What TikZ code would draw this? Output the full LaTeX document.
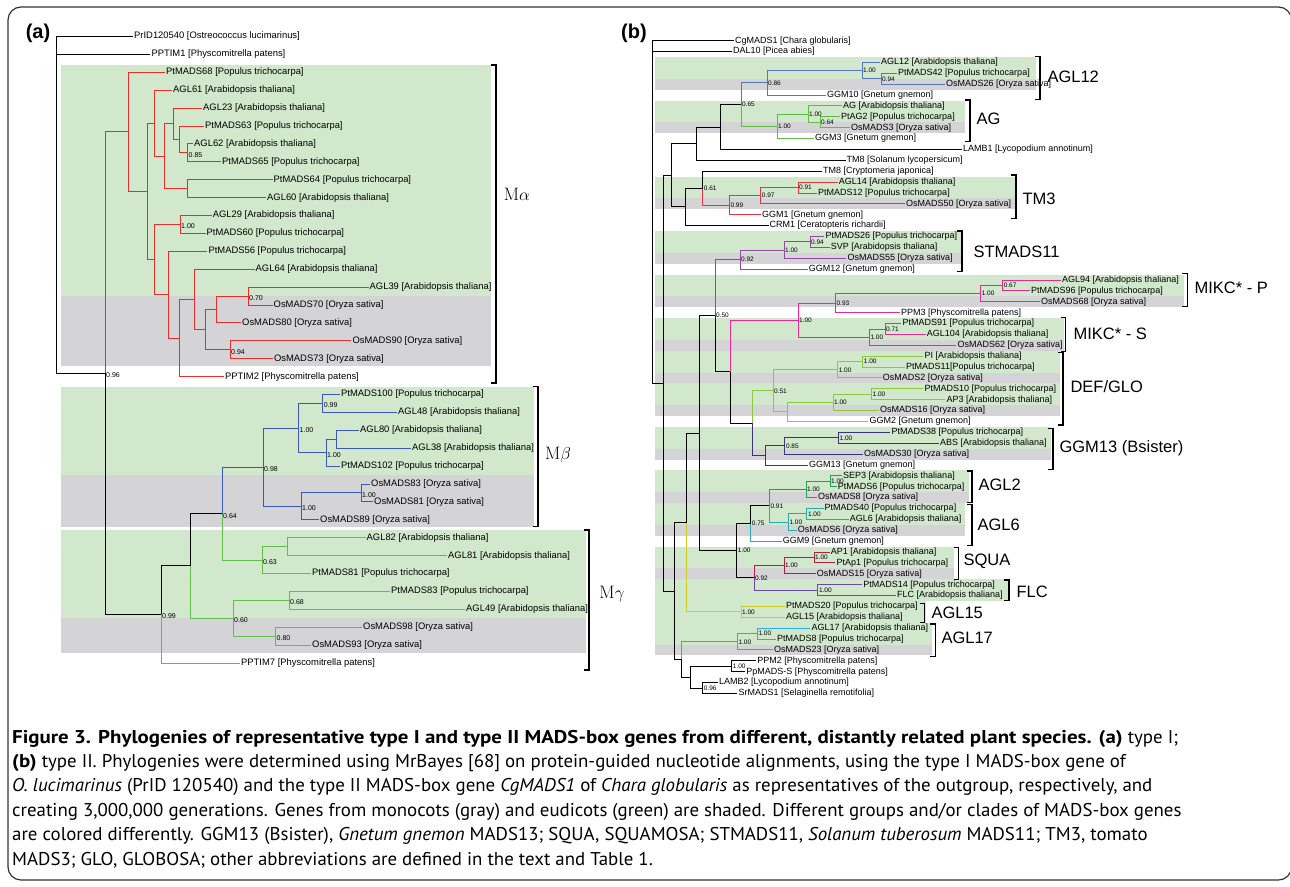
\documentclass[tikz,border=0pt]{standalone}
\usepackage{fontspec}
\newfontfamily\treefont{Liberation Sans}
\newfontfamily\capfont[FakeStretch=1.02, BoldFeatures={FakeStretch=1.13}]{PT Sans}
\usetikzlibrary{calc}

\definecolor{eudicot}{RGB}{209,232,205}
\definecolor{monocot}{RGB}{212,212,214}
\definecolor{malpha}{RGB}{231,46,43}
\definecolor{mbeta}{RGB}{59,89,184}
\definecolor{mgamma}{RGB}{98,190,75}
\definecolor{cagltw}{RGB}{86,116,196}
\definecolor{cag}{RGB}{95,190,65}
\definecolor{ctmthree}{RGB}{233,50,70}
\definecolor{cstm}{RGB}{150,70,170}
\definecolor{cmikc}{RGB}{236,40,150}
\definecolor{cdefglo}{RGB}{140,200,60}
\definecolor{cggm}{RGB}{60,50,130}
\definecolor{caglii}{RGB}{30,165,70}
\definecolor{caglvi}{RGB}{40,170,175}
\definecolor{csqua}{RGB}{180,30,65}
\definecolor{cflc}{RGB}{110,70,165}
\definecolor{caglxv}{RGB}{205,205,40}
\definecolor{caglxvii}{RGB}{40,170,230}

\newcommand\lfa[4]{\node[lfa] (#1) at (#2,{36.5+17.9*#3}) {#4};}
\newcommand\lfb[4]{\node[lfb] (#1) at (#2,{40.7+10.88*#3}) {#4};}
\newcommand\clade[7]{%
  \coordinate (#1-m) at ($(#3)!.5!(#5)$);
  \coordinate (#1) at (#2,0 |- #1-m);
  \draw[br,#4] (#1) |- (#3);
  \draw[br,#6] (#1) |- (#5);
  \node[supp] (#1-s) at (#1) {#7};}
\newcommand\grpbrk[3]{\draw[brkt] (#1-5,#2) -- (#1,#2) -- (#1,#3) -- (#1-5,#3);}
\newcommand\shb[4]{\fill[#1] (655,{40.7+10.88*(#2-0.5)}) rectangle (#4,{40.7+10.88*(#3+0.5)});}

\begin{document}
\begin{tikzpicture}[x=1pt,y=-1pt,
    lfa/.style={anchor=west, inner sep=1pt, font=\treefont\fontsize{9.4}{10}\selectfont},
    lfb/.style={anchor=west, inner sep=1pt, font=\treefont\fontsize{9}{10}\selectfont},
    br/.style={line width=1pt},
    brkt/.style={line width=1.5pt},
    grk/.style={font=\fontsize{18}{20}\selectfont},
    glb/.style={anchor=west, font=\treefont\fontsize{16.5}{18}\selectfont},
    panel/.style={font=\treefont\bfseries\fontsize{20}{22}\selectfont},
    capline/.style={anchor=base west, inner sep=0pt, font=\capfont\fontsize{18.5}{22}\selectfont}
  ]
\useasboundingbox (0,0) rectangle (1290,886);
\draw[line width=1.2pt, black!80, rounded corners=13pt] (8,7) rectangle (1291.5,880);

\fill[eudicot] (61,65) rectangle (491,296);
\fill[monocot] (61,296) rectangle (491,366);
\fill[eudicot] (61,386.5) rectangle (534,475);
\fill[monocot] (61,475) rectangle (534,527);
\fill[eudicot] (61,530) rectangle (585.5,618);
\fill[monocot] (61,618) rectangle (585.5,653);

\shb{eudicot}{2}{3}{1036}  \shb{monocot}{4}{4}{1036}
\shb{eudicot}{6}{7}{965}   \shb{monocot}{8}{8}{965}
\shb{eudicot}{13}{14}{1015} \shb{monocot}{15}{15}{1015}
\shb{eudicot}{18}{19}{962} \shb{monocot}{20}{20}{962}
\shb{eudicot}{22}{23}{1184} \shb{monocot}{24}{24}{1184}
\shb{eudicot}{26}{27}{1064} \shb{monocot}{28}{28}{1064}
\shb{eudicot}{29}{30}{1060} \shb{monocot}{31}{31}{1060}
\shb{eudicot}{32}{33}{1060} \shb{monocot}{34}{34}{1060}
\shb{eudicot}{36}{37}{1051} \shb{monocot}{38}{38}{1051}
\shb{eudicot}{40}{41}{969}  \shb{monocot}{42}{42}{969}
\shb{eudicot}{43}{44}{965}  \shb{monocot}{45}{45}{965}
\shb{eudicot}{47}{48}{954}  \shb{monocot}{49}{49}{954}
\shb{eudicot}{50}{51}{1008}
\shb{eudicot}{52}{53}{926}
\shb{eudicot}{54}{55}{932}  \shb{monocot}{56}{56}{932}

\node[panel] (pa) at (38,33) {(a)};
\node[panel] (pb) at (634,33) {(b)};

\begin{scope}[supp/.style={anchor=west, inner sep=1pt, yshift=-2pt, font=\treefont\fontsize{7}{8}\selectfont}]
\lfa{PrID}{133}{0}{PrID120540 [Ostreococcus lucimarinus]}
\lfa{PPTIM1}{150.4}{1}{PPTIM1 [Physcomitrella patens]}
\lfa{PtMADS68}{165}{2}{PtMADS68 [Populus trichocarpa]}
\lfa{AGL61}{172}{3}{AGL61 [Arabidopsis thaliana]}
\lfa{AGL23}{202}{4}{AGL23 [Arabidopsis thaliana]}
\lfa{PtMADS63}{204}{5}{PtMADS63 [Populus trichocarpa]}
\lfa{AGL62}{193}{6}{AGL62 [Arabidopsis thaliana]}
\lfa{PtMADS65}{221}{7}{PtMADS65 [Populus trichocarpa]}
\lfa{PtMADS64}{272.5}{8}{PtMADS64 [Populus trichocarpa]}
\lfa{AGL60}{266}{9}{AGL60 [Arabidopsis thaliana]}
\lfa{AGL29}{211.6}{10}{AGL29 [Arabidopsis thaliana]}
\lfa{PtMADS60}{205.5}{11}{PtMADS60 [Populus trichocarpa]}
\lfa{PtMADS56}{207.4}{12}{PtMADS56 [Populus trichocarpa]}
\lfa{AGL64}{254.5}{13}{AGL64 [Arabidopsis thaliana]}
\lfa{AGL39}{368.5}{14}{AGL39 [Arabidopsis thaliana]}
\lfa{OsMADS70}{272.5}{15}{OsMADS70 [Oryza sativa]}
\lfa{OsMADS80}{241}{16}{OsMADS80 [Oryza sativa]}
\lfa{OsMADS90}{351.3}{17}{OsMADS90 [Oryza sativa]}
\lfa{OsMADS73}{272.9}{18}{OsMADS73 [Oryza sativa]}
\lfa{PPTIM2}{223.9}{19}{PPTIM2 [Physcomitrella patens]}
\lfa{PtMADS100}{340}{20}{PtMADS100 [Populus trichocarpa]}
\lfa{AGL48}{397}{21}{AGL48 [Arabidopsis thaliana]}
\lfa{AGL80}{359}{22}{AGL80 [Arabidopsis thaliana]}
\lfa{AGL38}{411}{23}{AGL38 [Arabidopsis thaliana]}
\lfa{PtMADS102}{340}{24}{PtMADS102 [Populus trichocarpa]}
\lfa{OsMADS83}{370}{25}{OsMADS83 [Oryza sativa]}
\lfa{OsMADS81}{373}{26}{OsMADS81 [Oryza sativa]}
\lfa{OsMADS89}{319}{27}{OsMADS89 [Oryza sativa]}
\lfa{AGL82}{365.5}{28}{AGL82 [Arabidopsis thaliana]}
\lfa{AGL81}{447}{29}{AGL81 [Arabidopsis thaliana]}
\lfa{PtMADS81}{311}{30}{PtMADS81 [Populus trichocarpa]}
\lfa{PtMADS83}{390}{31}{PtMADS83 [Populus trichocarpa]}
\lfa{AGL49}{465}{32}{AGL49 [Arabidopsis thaliana]}
\lfa{OsMADS98}{362}{33}{OsMADS98 [Oryza sativa]}
\lfa{OsMADS93}{311}{34}{OsMADS93 [Oryza sativa]}
\lfa{PPTIM7}{240}{35}{PPTIM7 [Physcomitrella patens]}

\clade{aI}{187.5}{AGL62.west}{malpha}{PtMADS65.west}{malpha}{0.85}
\clade{aH}{179}{PtMADS63.west}{malpha}{aI}{malpha}{}
\clade{aF}{173}{AGL23.west}{malpha}{aH}{malpha}{}
\clade{aG}{187.5}{PtMADS64.west}{malpha}{AGL60.west}{malpha}{}
\clade{aE}{164}{aF}{malpha}{aG}{malpha}{}
\clade{aC}{154}{AGL61.west}{malpha}{aE}{malpha}{}
\clade{aJ}{180}{AGL29.west}{malpha}{PtMADS60.west}{malpha}{1.00}
\clade{aQ}{248}{AGL39.west}{malpha}{OsMADS70.west}{malpha}{0.70}
\clade{aO}{216}{aQ}{malpha}{OsMADS80.west}{malpha}{}
\clade{aP}{230}{OsMADS90.west}{malpha}{OsMADS73.west}{malpha}{0.94}
\clade{aN}{205}{aO}{malpha}{aP}{malpha}{}
\clade{aM}{194}{AGL64.west}{malpha}{aN}{malpha}{}
\clade{aL}{179}{aM}{malpha}{PPTIM2.west}{malpha}{}
\clade{aK}{168}{PtMADS56.west}{malpha}{aL}{malpha}{}
\clade{aD}{154}{aJ}{malpha}{aK}{malpha}{}
\clade{aB}{147}{aC}{malpha}{aD}{malpha}{}
\clade{aA}{128}{PtMADS68.west}{malpha}{aB}{malpha}{}

\clade{aZa}{322.6}{PtMADS100.west}{mbeta}{AGL48.west}{mbeta}{0.99}
\clade{aZc}{336}{AGL80.west}{mbeta}{AGL38.west}{mbeta}{}
\clade{aZb}{326}{aZc}{mbeta}{PtMADS102.west}{mbeta}{1.00}
\clade{aX}{298.5}{aZa}{mbeta}{aZb}{mbeta}{1.00}
\clade{aZd}{361}{OsMADS83.west}{mbeta}{OsMADS81.west}{mbeta}{1.00}
\clade{aY}{301}{aZd}{mbeta}{OsMADS89.west}{mbeta}{1.00}
\clade{aV}{263}{aX}{mbeta}{aY}{mbeta}{0.98}

\clade{aWa}{287}{AGL82.west}{mgamma}{AGL81.west}{mgamma}{}
\clade{aW}{262}{aWa}{mgamma}{PtMADS81.west}{mgamma}{0.63}
\clade{aUa}{289}{PtMADS83.west}{mgamma}{AGL49.west}{mgamma}{0.68}
\clade{aUb}{275.5}{OsMADS98.west}{mgamma}{OsMADS93.west}{mgamma}{0.80}
\clade{aU}{233}{aUa}{mgamma}{aUb}{mgamma}{0.60}
\clade{aT}{222}{aV}{mbeta}{aW}{mgamma}{0.64}
\clade{aS}{190}{aT}{black}{aU}{mgamma}{}
\clade{aR}{161}{aS}{black}{PPTIM7.west}{mgamma}{0.99}
\clade{aRoot}{105}{aA}{malpha}{aR}{black}{0.96}

\coordinate (aRt) at (56,0 |- aRoot);
\coordinate (aRt1) at (56,0 |- PPTIM1.west);
\draw[br] (PrID.west) -| (aRt) -- (aRoot);
\draw[br] (aRt1) -- (PPTIM1.west);
\end{scope}

\grpbrk{496}{65}{383}
\grpbrk{538}{386.7}{526.7}
\grpbrk{589}{530}{670}
\node[grk] (lMa) at (517,194) {$\mathrm{M}\alpha$};
\node[grk] (lMb) at (558,455) {$\mathrm{M}\beta$};
\node[grk] (lMc) at (612,594) {$\mathrm{M}\gamma$};

\begin{scope}[supp/.style={anchor=west, inner sep=1pt, font=\treefont\fontsize{6.5}{7}\selectfont}]
\lfb{CgMADS1}{734}{0}{CgMADS1 [Chara globularis]}
\lfb{DAL10}{732}{1}{DAL10 [Picea abies]}
\lfb{AGL12}{880}{2}{AGL12 [Arabidopsis thaliana]}
\lfb{PtMADS42}{897}{3}{PtMADS42 [Populus trichocarpa]}
\lfb{OsMADS26}{945}{4}{OsMADS26 [Oryza sativa]}
\lfb{GGM10}{826}{5}{GGM10 [Gnetum gnemon]}
\lfb{AG}{842}{6}{AG [Arabidopsis thaliana]}
\lfb{PtAG2}{840}{7}{PtAG2 [Populus trichocarpa]}
\lfb{OsMADS3}{850}{8}{OsMADS3 [Oryza sativa]}
\lfb{GGM3}{814}{9}{GGM3 [Gnetum gnemon]}
\lfb{LAMB1}{962}{10}{LAMB1 [Lycopodium annotinum]}
\lfb{TM8s}{845.5}{11}{TM8 [Solanum lycopersicum]}
\lfb{TM8c}{822}{12}{TM8 [Cryptomeria japonica]}
\lfb{AGL14}{837.6}{13}{AGL14 [Arabidopsis thaliana]}
\lfb{PtMADS12}{817}{14}{PtMADS12 [Populus trichocarpa]}
\lfb{OsMADS50}{905}{15}{OsMADS50 [Oryza sativa]}
\lfb{GGM1}{761}{16}{GGM1 [Gnetum gnemon]}
\lfb{CRM1}{768.5}{17}{CRM1 [Ceratopteris richardii]}
\lfb{PtMADS26}{824.4}{18}{PtMADS26 [Populus trichocarpa]}
\lfb{SVP}{829.7}{19}{SVP [Arabidopsis thaliana]}
\lfb{OsMADS55}{846.4}{20}{OsMADS55 [Oryza sativa]}
\lfb{GGM12}{807.7}{21}{GGM12 [Gnetum gnemon]}
\lfb{AGL94}{1061}{22}{AGL94 [Arabidopsis thaliana]}
\lfb{PtMADS96}{1030}{23}{PtMADS96 [Populus trichocarpa]}
\lfb{OsMADS68}{1040}{24}{OsMADS68 [Oryza sativa]}
\lfb{PPM3}{900}{25}{PPM3 [Physcomitrella patens]}
\lfb{PtMADS91}{901.4}{26}{PtMADS91 [Populus trichocarpa]}
\lfb{AGL104}{925.6}{27}{AGL104 [Arabidopsis thaliana]}
\lfb{OsMADS62}{956.4}{28}{OsMADS62 [Oryza sativa]}
\lfb{PI}{923.4}{29}{PI [Arabidopsis thaliana]}
\lfb{PtMADS11}{905}{30}{PtMADS11[Populus trichocarpa]}
\lfb{OsMADS2}{881.6}{31}{OsMADS2 [Oryza sativa]}
\lfb{PtMADS10}{923.4}{32}{PtMADS10 [Populus trichocarpa]}
\lfb{AP3}{945.4}{33}{AP3 [Arabidopsis thaliana]}
\lfb{OsMADS16}{879}{34}{OsMADS16 [Oryza sativa]}
\lfb{GGM2}{868.4}{35}{GGM2 [Gnetum gnemon]}
\lfb{PtMADS38}{890.4}{36}{PtMADS38 [Populus trichocarpa]}
\lfb{ABS}{938.8}{37}{ABS [Arabidopsis thaliana]}
\lfb{OsMADS30}{863}{38}{OsMADS30 [Oryza sativa]}
\lfb{GGM13}{808}{39}{GGM13 [Gnetum gnemon]}
\lfb{SEP3}{842}{40}{SEP3 [Arabidopsis thaliana]}
\lfb{PtMADS6}{836.7}{41}{PtMADS6 [Populus trichocarpa]}
\lfb{OsMADS8}{817}{42}{OsMADS8 [Oryza sativa]}
\lfb{PtMADS40}{823.5}{43}{PtMADS40 [Populus trichocarpa]}
\lfb{AGL6}{848.6}{44}{AGL6 [Arabidopsis thaliana]}
\lfb{OsMADS6}{796.7}{45}{OsMADS6 [Oryza sativa]}
\lfb{GGM9}{781.7}{46}{GGM9 [Gnetum gnemon]}
\lfb{AP1}{829.7}{47}{AP1 [Arabidopsis thaliana]}
\lfb{PtAp1}{835.4}{48}{PtAp1 [Populus trichocarpa]}
\lfb{OsMADS15}{815.6}{49}{OsMADS15 [Oryza sativa]}
\lfb{PtMADS14}{862.2}{50}{PtMADS14 [Populus trichocarpa]}
\lfb{FLC}{896}{51}{FLC [Arabidopsis thaliana]}
\lfb{PtMADS20}{784.8}{52}{PtMADS20 [Populus trichocarpa]}
\lfb{AGL15}{784.8}{53}{AGL15 [Arabidopsis thaliana]}
\lfb{AGL17}{810.3}{54}{AGL17 [Arabidopsis thaliana]}
\lfb{PtMADS8}{776}{55}{PtMADS8 [Populus trichocarpa]}
\lfb{OsMADS23}{773}{56}{OsMADS23 [Oryza sativa]}
\lfb{PPM2}{756.2}{57}{PPM2 [Physcomitrella patens]}
\lfb{PpMADSS}{745.2}{58}{PpMADS-S [Physcomitrella patens]}
\lfb{LAMB2}{718}{59}{LAMB2 [Lycopodium annotinum]}
\lfb{SrMADS1}{737.3}{60}{SrMADS1 [Selaginella remotifolia]}

\clade{bAglA}{881}{PtMADS42.west}{cagltw}{OsMADS26.west}{cagltw}{0.94}
\clade{bAglB}{862}{AGL12.west}{cagltw}{bAglA}{cagltw}{1.00}
\clade{bAglC}{767}{bAglB}{cagltw}{GGM10.west}{cagltw}{0.86}
\clade{bAgA}{820}{PtAG2.west}{cag}{OsMADS3.west}{cag}{0.64}
\clade{bAgB}{808}{AG.west}{cag}{bAgA}{cag}{1.00}
\clade{bAgC}{777}{bAgB}{cag}{GGM3.west}{cag}{1.00}
\clade{bN65}{741}{bAglC}{cagltw}{bAgC}{cag}{0.65}
\clade{bR6}{720}{bN65}{black}{LAMB1.west}{black}{}
\clade{bR4}{696.7}{bR6}{black}{TM8s.west}{black}{}
\clade{bTmA}{798}{AGL14.west}{ctmthree}{PtMADS12.west}{ctmthree}{0.91}
\clade{bTmB}{760.7}{bTmA}{ctmthree}{OsMADS50.west}{ctmthree}{0.97}
\clade{bTmC}{729.3}{bTmB}{ctmthree}{GGM1.west}{ctmthree}{0.99}
\clade{bN61}{702.7}{TM8c.west}{black}{bTmC}{ctmthree}{0.61}
\clade{bR5}{685.7}{bN61}{black}{CRM1.west}{black}{}
\clade{bR2}{671.7}{bR4}{black}{bR5}{black}{}

\clade{bStA}{810}{PtMADS26.west}{cstm}{SVP.west}{cstm}{0.94}
\clade{bStB}{784}{bStA}{cstm}{OsMADS55.west}{cstm}{1.00}
\clade{bStC}{740}{bStB}{cstm}{GGM12.west}{cstm}{0.92}
\clade{bMpA}{1002.6}{AGL94.west}{cmikc}{PtMADS96.west}{cmikc}{0.67}
\clade{bMpB}{980.6}{bMpA}{cmikc}{OsMADS68.west}{cmikc}{1.00}
\clade{bMpC}{835.4}{bMpB}{cmikc}{PPM3.west}{cmikc}{0.93}
\clade{bMsA}{885}{PtMADS91.west}{cmikc}{AGL104.west}{cmikc}{0.71}
\clade{bMsB}{869.3}{bMsA}{cmikc}{OsMADS62.west}{cmikc}{1.00}
\clade{bMk}{798}{bMpC}{cmikc}{bMsB}{cmikc}{1.00}
\clade{bDgA}{862.7}{PI.west}{cdefglo}{PtMADS11.west}{cdefglo}{1.00}
\clade{bDgB}{837.6}{bDgA}{cdefglo}{OsMADS2.west}{cdefglo}{1.00}
\clade{bDgC}{871.5}{PtMADS10.west}{cdefglo}{AP3.west}{cdefglo}{1.00}
\clade{bDgD}{833}{bDgC}{cdefglo}{OsMADS16.west}{cdefglo}{1.00}
\clade{bDgE}{787}{bDgD}{cdefglo}{GGM2.west}{cdefglo}{}
\clade{bDgF}{773}{bDgB}{cdefglo}{bDgE}{cdefglo}{0.51}
\clade{bGgA}{838.5}{PtMADS38.west}{cggm}{ABS.west}{cggm}{1.00}
\clade{bGgB}{784.8}{bGgA}{cggm}{OsMADS30.west}{cggm}{0.85}
\clade{bGgC}{765}{bGgB}{cggm}{GGM13.west}{cggm}{}
\clade{bDG}{752}{bDgF}{cdefglo}{bGgC}{cggm}{}
\clade{bX730}{730}{bMk}{cmikc}{bDG}{black}{}
\clade{bN50}{715}{bStC}{cstm}{bX730}{black}{0.50}

\clade{bAtA}{830}{SEP3.west}{caglii}{PtMADS6.west}{caglii}{1.00}
\clade{bAtB}{806}{bAtA}{caglii}{OsMADS8.west}{caglii}{1.00}
\clade{bAsA}{806.8}{PtMADS40.west}{caglvi}{AGL6.west}{caglvi}{1.00}
\clade{bAsB}{788.3}{bAsA}{caglvi}{OsMADS6.west}{caglvi}{1.00}
\clade{bN91}{769.3}{bAtB}{caglii}{bAsB}{caglvi}{0.91}
\clade{bN75}{750.7}{bN91}{black}{GGM9.west}{caglvi}{0.75}
\clade{bSqA}{814}{AP1.west}{csqua}{PtAp1.west}{csqua}{1.00}
\clade{bSqB}{784}{bSqA}{csqua}{OsMADS15.west}{csqua}{1.00}
\clade{bFl}{817.8}{PtMADS14.west}{cflc}{FLC.west}{cflc}{1.00}
\clade{bN92}{754}{bSqB}{csqua}{bFl}{cflc}{0.92}
\clade{bN100}{736.7}{bN75}{black}{bN92}{black}{1.00}
\clade{bP699}{699.3}{bN50}{black}{bN100}{black}{}
\clade{bAf}{741}{PtMADS20.west}{caglxv}{AGL15.west}{caglxv}{1.00}
\clade{bX686}{686}{bP699}{black}{bAf}{caglxv}{}
\clade{bAsvA}{757.3}{AGL17.west}{caglxvii}{PtMADS8.west}{caglxvii}{1.00}
\clade{bAsvB}{737.3}{bAsvA}{caglxvii}{OsMADS23.west}{caglxvii}{1.00}
\clade{bPp}{731.7}{PPM2.west}{black}{PpMADSS.west}{black}{1.00}
\clade{bLa}{702.7}{LAMB2.west}{black}{SrMADS1.west}{black}{0.96}
\clade{bX690}{690}{bPp}{black}{bLa}{black}{}
\clade{bX681}{681.7}{bAsvB}{caglxvii}{bX690}{black}{}
\clade{bR3}{674.3}{bX686}{black}{bX681}{black}{}
\clade{bR1}{663.8}{bR2}{black}{bR3}{black}{}

\coordinate (bRt) at (652,0 |- bR1);
\coordinate (bRt1) at (652,0 |- DAL10.west);
\draw[br] (CgMADS1.west) -| (bRt) -- (bR1);
\draw[br] (bRt1) -- (DAL10.west);
\end{scope}

\grpbrk{1040}{56.7}{99.3}
\grpbrk{970}{100}{141.7}
\grpbrk{1016}{175}{218.3}
\grpbrk{962}{231}{271.7}
\grpbrk{1187.4}{273.3}{306.7}
\grpbrk{1065.5}{317.7}{351.7}
\grpbrk{1063}{352.7}{425}
\grpbrk{1053}{428.3}{469.3}
\grpbrk{971.8}{471}{502.3}
\grpbrk{971.8}{504.3}{545.7}
\grpbrk{958.6}{547.7}{579.3}
\grpbrk{1009}{580}{600.7}
\grpbrk{924.7}{603.3}{622.7}
\grpbrk{935.3}{624}{656.7}
\node[glb] (gAGL12) at (1044,77.3) {AGL12};
\node[glb] (gAG) at (973,119.3) {AG};
\node[glb] (gTM3) at (1019,199.3) {TM3};
\node[glb] (gSTM) at (970,251.7) {STMADS11};
\node[glb] (gMP) at (1191,288.3) {MIKC* - P};
\node[glb] (gMS) at (1070,334) {MIKC* - S};
\node[glb] (gDG) at (1067,386.7) {DEF/GLO};
\node[glb] (gGGM) at (1056,448.3) {GGM13 (Bsister)};
\node[glb] (gAGL2) at (975,485) {AGL2};
\node[glb] (gAGL6) at (974,525) {AGL6};
\node[glb] (gSQ) at (960,561.7) {SQUA};
\node[glb] (gFLC) at (1013,591.7) {FLC};
\node[glb] (gAGL15) at (928,613.3) {AGL15};
\node[glb] (gAGL17) at (938,638.3) {AGL17};

\foreach \ln [count=\i from 0] in {%
  {\textbf{Figure 3. Phylogenies of representative type I and type II MADS-box genes from different, distantly related plant species. (a)} type I;},
  {\textbf{(b)} type II. Phylogenies were determined using MrBayes [68] on protein-guided nucleotide alignments, using the type I MADS-box gene of},
  {\textit{O. lucimarinus} (PrID 120540) and the type II MADS-box gene \textit{CgMADS1} of \textit{Chara globularis} as representatives of the outgroup, respectively, and},
  {creating 3,000,000 generations. Genes from monocots (gray) and eudicots (green) are shaded. Different groups and/or clades of MADS-box genes},
  {are colored differently. GGM13 (Bsister), \textit{Gnetum gnemon} MADS13; SQUA, SQUAMOSA; STMADS11, \textit{Solanum tuberosum} MADS11; TM3, tomato},
  {MADS3; GLO, GLOBOSA; other abbreviations are defined in the text and Table 1.}}
  \node[capline] (cap\i) at (12,{743+24.4*\i}) {\ln};
\end{tikzpicture}
\end{document}
